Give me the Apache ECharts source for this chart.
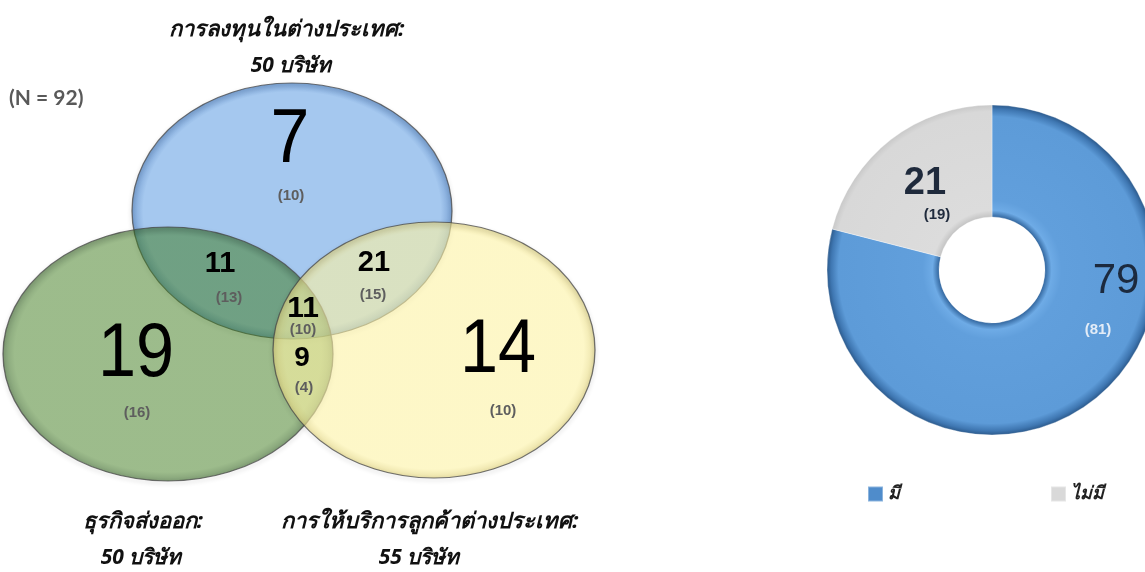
<!DOCTYPE html>
<html>
<head>
<meta charset="utf-8">
<script src="https://cdn.jsdelivr.net/npm/echarts@6/dist/echarts.min.js"></script>
<style>
  html, body { margin: 0; padding: 0; background: #ffffff; }
  #chart { width: 1145px; height: 572px; }
</style>
</head>
<body>
<div id="chart"></div>
<script>
// ---- data ----
const sampleSize = 92;
const setNames = ['การลงทุนในต่างประเทศ', 'ธุรกิจส่งออก', 'การให้บริการลูกค้าต่างประเทศ'];
const setTotals = [50, 50, 55];
const companyUnit = 'บริษัท';

// Venn regions: only-invest, only-export, only-service, invest+export, invest+service, export+service, all three
const regionValues = [7, 19, 14, 11, 21, 9, 11];
const regionPrevValues = [10, 16, 10, 13, 15, 4, 10];

const donutCategories = ['มี', 'ไม่มี'];
const donutValues = [79, 21];
const donutPrevValues = [81, 19];

// ---- layout (pixel space of the hidden grid) ----
const vennEllipses = [
  { cx: 292, cy: 211, rx: 160, ry: 128, fill: 'rgba(165,200,239,1)', edge: 'rgba(122,162,212,1)' },
  { cx: 168, cy: 354, rx: 165, ry: 127, fill: 'rgba(59,121,25,0.5)', edge: 'rgba(40,90,20,0.58)' },
  { cx: 434, cy: 350, rx: 161, ry: 128, fill: 'rgba(252,242,163,0.6)', edge: 'rgba(225,212,130,0.7)' }
];
// [x, y, fontSize, weight, prevX, prevY, scaleX]
const regionLabelLayout = [
  [290, 141, 76, 'normal', 291, 196, 0.92],
  [136, 355, 76, 'normal', 137, 413, 0.9],
  [498, 351, 76, 'normal', 503, 411, 0.9],
  [220, 264, 29, 'bold', 229, 298, 1],
  [374, 263, 29, 'bold', 373, 295, 1],
  [302, 358, 28, 'bold', 304, 388, 1],
  [303, 309, 30, 'bold', 303, 330, 1]
];
// [x, y, secondLineX]
const setTitleLayout = [[287, 30, 291], [143, 522, 141], [430, 522, 419]];
const donutCenter = [992, 270];
const donutRadius = [53, 165];
// [x, y, fontSize, weight, color, prevX, prevY, prevColor]
const donutLabelLayout = [
  [1116, 281, 42, 'normal', '#1c2a3e', 1098, 330, '#e3ecf7'],
  [925, 184, 38, 'bold', '#1f2a3c', 937, 215, '#1f2a3c']
];

const thaiFont = '"Noto Sans", "DejaVu Sans", sans-serif';
const numFont = '"Liberation Sans", Arial, sans-serif';

const chart = echarts.init(document.getElementById('chart'), null, { renderer: 'canvas' });

function ellipseItem(params, api) {
  const e = vennEllipses[params.dataIndex];
  const c = api.coord([e.cx, e.cy]);
  const s = api.size([e.rx, e.ry]);
  const k = s[1] / s[0];
  return {
    type: 'group',
    children: [
      {
        type: 'circle',
        x: c[0], y: c[1], scaleY: k,
        shape: { cx: 0, cy: 0, r: s[0] },
        style: {
          fill: {
            type: 'radial', x: 0.5, y: 0.5, r: 0.5,
            colorStops: [
              { offset: 0, color: e.fill },
              { offset: 0.93, color: e.fill },
              { offset: 1, color: e.edge }
            ]
          }
        }
      },
      {
        type: 'circle',
        x: c[0], y: c[1], scaleY: k,
        shape: { cx: 0, cy: 0, r: s[0] },
        style: {
          fill: 'none',
          stroke: 'rgba(70,70,70,0.75)',
          lineWidth: 1.3,
          strokeNoScale: true,
          shadowBlur: 4,
          shadowOffsetY: 2,
          shadowColor: 'rgba(0,0,0,0.3)'
        }
      }
    ]
  };
}

function textEl(api, x, y, text, font, fill, scaleX) {
  const c = api.coord([x, y]);
  return {
    type: 'text',
    x: c[0], y: c[1], scaleX: scaleX || 1,
    style: { text: text, font: font, fill: fill, align: 'center', verticalAlign: 'middle' }
  };
}

function regionLabelItem(params, api) {
  const i = params.dataIndex;
  const L = regionLabelLayout[i];
  return {
    type: 'group',
    children: [
      textEl(api, L[0], L[1], String(regionValues[i]), L[3] + ' ' + L[2] + 'px ' + numFont, '#000000', L[6]),
      textEl(api, L[4], L[5], '(' + regionPrevValues[i] + ')', 'bold 15px ' + numFont, '#5e5e5e')
    ]
  };
}

function setTitleItem(params, api) {
  const i = params.dataIndex;
  const L = setTitleLayout[i];
  return {
    type: 'group',
    children: [
      textEl(api, L[0], L[1], setNames[i] + ':', 'italic bold 22px ' + thaiFont, '#111111'),
      textEl(api, L[2], L[1] + 36, setTotals[i] + ' ' + companyUnit, 'italic bold 21px ' + thaiFont, '#111111')
    ]
  };
}

function donutLabelItem(params, api) {
  const i = params.dataIndex;
  const L = donutLabelLayout[i];
  return {
    type: 'group',
    children: [
      textEl(api, L[0], L[1], String(donutValues[i]), L[3] + ' ' + L[2] + 'px ' + numFont, L[4]),
      textEl(api, L[5], L[6], '(' + donutPrevValues[i] + ')', 'bold 15px ' + numFont, L[7])
    ]
  };
}

const R = donutRadius[1];
const innerStop = donutRadius[0] / R;
const blueFill = {
  type: 'radial', x: donutCenter[0], y: donutCenter[1], r: R, global: true,
  colorStops: [
    { offset: innerStop, color: '#33679f' },
    { offset: innerStop + 0.04, color: '#6eabe6' },
    { offset: innerStop + 0.1, color: '#619fdc' },
    { offset: 0.93, color: '#5d9bd8' },
    { offset: 0.975, color: '#3f77b2' },
    { offset: 1, color: '#2c5a8c' }
  ]
};
const grayFill = {
  type: 'radial', x: donutCenter[0], y: donutCenter[1], r: R, global: true,
  colorStops: [
    { offset: innerStop, color: '#c4c4c4' },
    { offset: innerStop + 0.04, color: '#dcdcdc' },
    { offset: 0.96, color: '#d8d8d8' },
    { offset: 1, color: '#c9c9c9' }
  ]
};
const sliceFills = [blueFill, grayFill];
const legendColors = ['#4f8ccb', '#d9d9d9'];

const idx = (arr) => arr.map((_, i) => i);

chart.setOption({
  animation: false,
  backgroundColor: '#ffffff',
  grid: { left: 0, right: 0, top: 0, bottom: 0 },
  xAxis: { type: 'value', min: 0, max: 1145, show: false },
  yAxis: { type: 'value', min: 0, max: 572, inverse: true, show: false },
  legend: {
    left: 862, top: 480,
    itemWidth: 15, itemHeight: 15, itemGap: 150,
    icon: 'rect',
    selectedMode: false,
    textStyle: { fontFamily: thaiFont, fontStyle: 'italic', fontWeight: 'bold', fontSize: 18, color: '#222222' },
    data: donutCategories.map((name, i) => ({ name: name, itemStyle: { color: legendColors[i] } }))
  },
  graphic: [{
    type: 'text', left: 9, top: 88,
    style: { text: '(N = ' + sampleSize + ')', font: 'bold 21px Lato, "Liberation Sans", sans-serif', fill: '#595959' }
  }],
  series: [
    {
      type: 'custom', name: 'venn', coordinateSystem: 'cartesian2d',
      data: idx(vennEllipses), renderItem: ellipseItem, silent: true, z: 1
    },
    {
      type: 'custom', name: 'regions', coordinateSystem: 'cartesian2d',
      data: idx(regionValues), renderItem: regionLabelItem, silent: true, z: 3
    },
    {
      type: 'custom', name: 'sets', coordinateSystem: 'cartesian2d',
      data: idx(setNames), renderItem: setTitleItem, silent: true, z: 3
    },
    {
      type: 'pie', name: 'donut',
      center: donutCenter, radius: donutRadius,
      startAngle: 90, clockwise: true,
      label: { show: false }, labelLine: { show: false },
      emphasis: { disabled: true },
      silent: true, z: 2,
      itemStyle: { borderColor: 'rgba(255,255,255,0.35)', borderWidth: 1 },
      data: donutCategories.map((name, i) => ({ name: name, value: donutValues[i], itemStyle: { color: sliceFills[i] } }))
    },
    {
      type: 'custom', name: 'donutLabels', coordinateSystem: 'cartesian2d',
      data: idx(donutValues), renderItem: donutLabelItem, silent: true, z: 4
    }
  ]
});
</script>
</body>
</html>
